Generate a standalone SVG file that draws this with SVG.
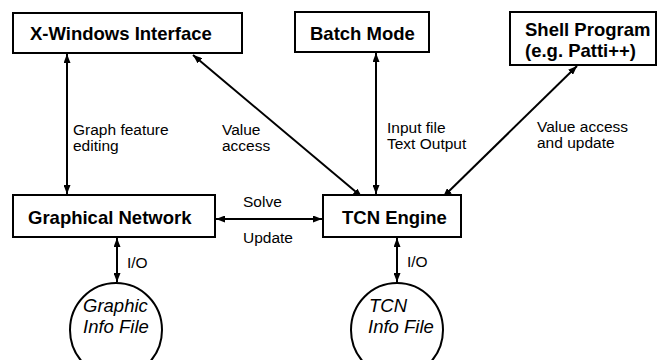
<svg xmlns="http://www.w3.org/2000/svg" width="663" height="360" viewBox="0 0 663 360">
<defs>
<marker id="ah" viewBox="0 0 10 10" refX="10" refY="5" markerWidth="9" markerHeight="7" markerUnits="userSpaceOnUse" orient="auto-start-reverse" preserveAspectRatio="none">
<path d="M0,0 L10,5 L0,10 Z" fill="#000"/>
</marker>
<style>
.box{fill:#fff;stroke:#000;stroke-width:2}
.ell{fill:#fff;stroke:#000;stroke-width:2}
.t{font-family:"Liberation Sans",Arial,sans-serif;font-weight:bold;font-size:18.5px;fill:#000}
.l{font-family:"Liberation Sans",Arial,sans-serif;font-size:15.5px;fill:#000}
.i{font-family:"Liberation Sans",Arial,sans-serif;font-style:italic;font-size:18.5px;fill:#000}
.c{stroke:#000;stroke-width:2;fill:none;marker-start:url(#ah);marker-end:url(#ah)}
</style>
</defs>
<g id="connectors">
<line class="c" x1="67" y1="54" x2="67" y2="194"/>
<line class="c" x1="193" y1="55" x2="362" y2="197"/>
<line class="c" x1="376" y1="53" x2="376" y2="194"/>
<line class="c" x1="577" y1="66" x2="443" y2="197"/>
<line class="c" x1="216" y1="219" x2="322" y2="219"/>
<line class="c" x1="117" y1="238" x2="117" y2="282"/>
<line class="c" x1="397" y1="238" x2="397" y2="282"/>
</g>
<g id="labels">
<text class="l" x="73" y="135">Graph feature</text>
<text class="l" x="73" y="151">editing</text>
<text class="l" x="222" y="135">Value</text>
<text class="l" x="222" y="151">access</text>
<text class="l" x="387" y="133">Input file</text>
<text class="l" x="387" y="149">Text Output</text>
<text class="l" x="537" y="132">Value access</text>
<text class="l" x="537" y="148">and update</text>
<text class="l" x="243" y="207">Solve</text>
<text class="l" x="243" y="243">Update</text>
<text class="l" x="127" y="268">I/O</text>
<text class="l" x="407" y="267">I/O</text>
</g>
<g id="xwin">
<rect class="box" x="13" y="13" width="229" height="40"/>
<text class="t" x="30" y="40">X-Windows Interface</text>
</g>
<g id="batch">
<rect class="box" x="295" y="12" width="134" height="40"/>
<text class="t" x="310" y="40">Batch Mode</text>
</g>
<g id="shell">
<rect class="box" x="510" y="12" width="146" height="53"/>
<text class="t" x="525" y="36">Shell Program</text>
<text class="t" x="525" y="57">(e.g. Patti++)</text>
</g>
<g id="graphnet">
<rect class="box" x="13" y="195" width="202" height="42"/>
<text class="t" x="28" y="224">Graphical Network</text>
</g>
<g id="tcn">
<rect class="box" x="323" y="195" width="138" height="42"/>
<text class="t" x="342" y="224">TCN Engine</text>
</g>
<g id="graphicfile">
<ellipse class="ell" cx="116" cy="330" rx="46" ry="47"/>
<text class="i" x="83" y="312">Graphic</text>
<text class="i" x="83" y="333">Info File</text>
</g>
<g id="tcnfile">
<ellipse class="ell" cx="397" cy="330" rx="46" ry="47"/>
<text class="i" x="369" y="312">TCN</text>
<text class="i" x="368" y="333">Info File</text>
</g>
</svg>
